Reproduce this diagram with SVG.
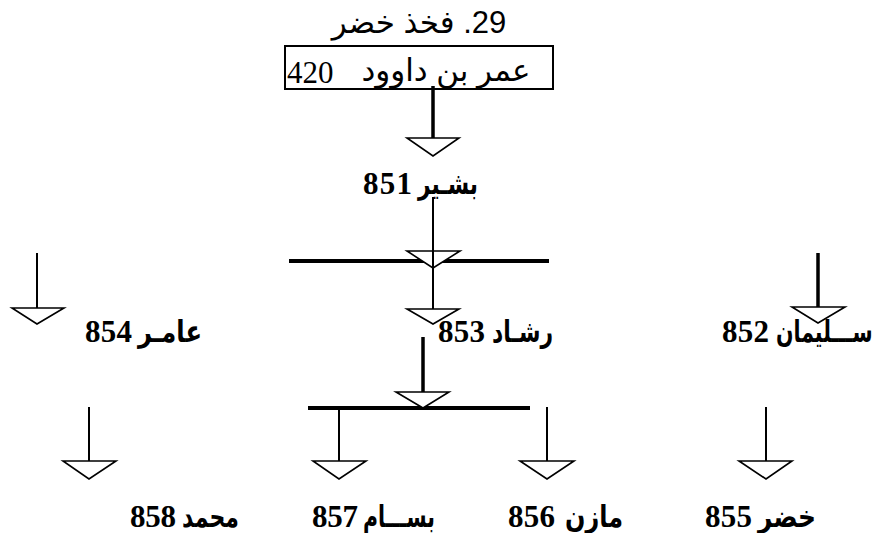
<svg xmlns="http://www.w3.org/2000/svg" width="882" height="533" viewBox="0 0 882 533">
<style>
.ln{stroke:#000;fill:none;stroke-width:2}
.thk{stroke:#000;fill:none;stroke-width:3.5}
.bar{stroke:#000;fill:none;stroke-width:4}
.tri{stroke:#000;fill:#fff;stroke-width:1.6;stroke-linejoin:miter}
.num{font-family:'Liberation Serif',serif;font-weight:bold;font-size:31px;fill:#000}
.ar{font-family:'DejaVu Sans','Liberation Sans',sans-serif;font-weight:bold;font-size:30px;fill:#000}
.ttl{font-family:'Liberation Sans','DejaVu Sans',sans-serif;font-size:31px;fill:#000;text-anchor:middle}
</style>
<rect width="882" height="533" fill="#fff"/>
<g id="connectors">
  <line class="thk" x1="433" y1="86" x2="433" y2="138"/>
  <polygon class="tri" points="407,138 459,138 433,156"/>
  <line class="bar" x1="289" y1="261" x2="549" y2="261"/>
  <polygon class="tri" points="407,251 460,251 433,268"/>
  <line class="ln" x1="433" y1="197" x2="433" y2="309"/>
  <polygon class="tri" points="407,309 459,309 433,324"/>
  <line class="ln" x1="37" y1="253" x2="37" y2="308"/>
  <polygon class="tri" points="12,308 64,308 37,324"/>
  <line class="thk" x1="818" y1="253" x2="818" y2="307"/>
  <polygon class="tri" points="792,307 845,307 818,323"/>
  <line class="thk" x1="423" y1="337" x2="423" y2="392"/>
  <line class="bar" x1="308" y1="408" x2="530" y2="408"/>
  <polygon class="tri" points="396,392 449,392 423,408"/>
  <line class="ln" x1="339" y1="408" x2="339" y2="461"/>
  <polygon class="tri" points="313,461 366,461 339,479"/>
  <line class="ln" x1="547" y1="407" x2="547" y2="461"/>
  <polygon class="tri" points="520,461 574,461 547,479"/>
  <line class="ln" x1="766" y1="407" x2="766" y2="461"/>
  <polygon class="tri" points="739,461 792,461 766,479"/>
  <line class="ln" x1="89" y1="407" x2="89" y2="461"/>
  <polygon class="tri" points="63,461 116,461 89,479"/>
</g>
<g id="n420">
  <text class="ttl" x="419" y="33" direction="rtl">29. فخذ خضر</text>
  <rect x="285" y="46" width="268" height="43" fill="none" stroke="#000" stroke-width="2"/>
  <text x="287" y="83" font-family="'Liberation Serif',serif" font-size="31">420</text>
  <text class="ttl" x="446" y="81" font-size="30" direction="rtl">عمر بن داوود</text>
</g>
<g id="n851"><text class="num" x="363" y="194" textLength="49">851</text><text class="ar" x="418" y="194" textLength="60" lengthAdjust="spacingAndGlyphs">بشـير</text></g>
<g id="n854"><text class="num" x="85" y="342" textLength="47">854</text><text class="ar" x="138" y="342" textLength="64" lengthAdjust="spacingAndGlyphs">عامـر</text></g>
<g id="n853"><text class="num" x="438" y="342" textLength="47">853</text><text class="ar" x="492" y="342" textLength="61" lengthAdjust="spacingAndGlyphs">رشـاد</text></g>
<g id="n852"><text class="num" x="722" y="342" textLength="47">852</text><text class="ar" transform="translate(776,342) scale(0.7,1)" x="0" y="0" textLength="138" lengthAdjust="spacingAndGlyphs">ســـليمان</text></g>
<g id="n858"><text class="num" x="130" y="527" textLength="46">858</text><text class="ar" x="182" y="527" textLength="57" lengthAdjust="spacingAndGlyphs">محمد</text></g>
<g id="n857"><text class="num" x="312" y="527" textLength="46">857</text><text class="ar" x="363" y="527" textLength="72" lengthAdjust="spacingAndGlyphs">بســـام</text></g>
<g id="n856"><text class="num" x="508" y="527" textLength="47">856</text><text class="ar" x="565" y="527" textLength="58" lengthAdjust="spacingAndGlyphs">مازن</text></g>
<g id="n855"><text class="num" x="705" y="527" textLength="47">855</text><text class="ar" x="758" y="527" textLength="58" lengthAdjust="spacingAndGlyphs">خضر</text></g>
</svg>
